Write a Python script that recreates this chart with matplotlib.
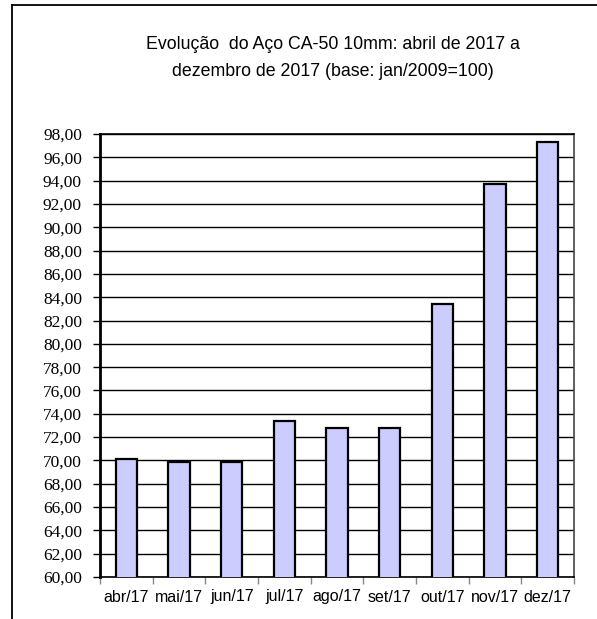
import matplotlib.pyplot as plt
from matplotlib.lines import Line2D
import numpy as np

# data
meses = ['abr/17', 'mai/17', 'jun/17', 'jul/17', 'ago/17', 'set/17', 'out/17', 'nov/17', 'dez/17']
indice = [70.10, 69.90, 69.90, 73.40, 72.80, 72.80, 83.45, 93.75, 97.35]
yticks = np.arange(60, 98.1, 2)

W, H = 597, 619
fig = plt.figure(figsize=(W / 100, H / 100), dpi=100)
fig.patch.set_facecolor('white')

# plot area in pixels: left 100, right 574, top 134, bottom 577
ax = fig.add_axes([100 / W, 1 - 577 / H, (574 - 100) / W, (577 - 134) / H])

x = np.arange(len(meses))
ax.bar(x, indice, width=0.41, color='#ccccff', edgecolor='black', linewidth=1.6, zorder=3)

ax.set_xlim(-0.5, len(meses) - 0.5)
ax.set_ylim(60, 98)
ax.set_yticks(yticks)
ax.set_yticklabels(['{:.2f}'.format(v).replace('.', ',') for v in yticks],
                   fontfamily='Liberation Serif', fontsize=12.5)
ax.yaxis.grid(True, color='black', linewidth=1.0, zorder=0)
ax.tick_params(axis='y', direction='out', length=5, width=1, pad=8)

# x ticks between categories, labels centred on bars
ax.set_xticks(np.arange(len(meses) + 1) - 0.5)
ax.set_xticklabels([])
ax.set_xticks(x, minor=True)
ax.set_xticklabels(meses, minor=True, fontfamily='Liberation Sans', fontsize=11.5)
ax.tick_params(axis='x', which='major', direction='out', length=5, width=1, color='#888888')
ax.tick_params(axis='x', which='minor', length=0, pad=9)

for s in ax.spines.values():
    s.set_linewidth(1.2)
ax.spines['left'].set_linewidth(2)
ax.spines['right'].set_color('#444444')

fig.text(333 / W, 1 - 58 / H,
         'Evolução  do Aço CA-50 10mm: abril de 2017 a\ndezembro de 2017 (base: jan/2009=100)',
         ha='center', va='center', fontfamily='Liberation Sans', fontsize=12.8,
         linespacing=1.7)

# outer frame (top and left edges only visible)
fig.add_artist(Line2D([12 / W, 1], [1 - 4.5 / H, 1 - 4.5 / H], color='black', linewidth=1.3,
                      transform=fig.transFigure))
fig.add_artist(Line2D([12 / W, 12 / W], [0, 1 - 4.5 / H], color='black', linewidth=1.3,
                      transform=fig.transFigure))

fig.savefig('out.png', dpi=100)
